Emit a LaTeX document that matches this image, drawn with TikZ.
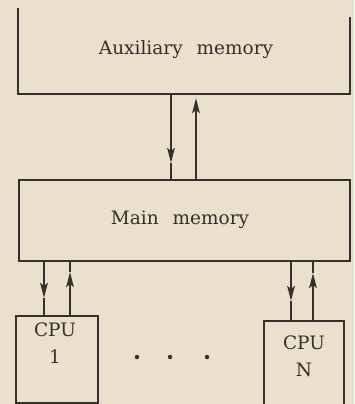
\documentclass[tikz,border=0pt]{standalone}
\usepackage{fontspec}
\setmainfont{DejaVu Serif}
\usetikzlibrary{arrows.meta}
\definecolor{paper}{HTML}{EAE0CB}
\definecolor{ink}{HTML}{35302B}
\begin{document}
\begin{tikzpicture}[x=1pt,y=-1pt,
  line width=2.3pt, draw=ink, line join=miter,
  boxed/.style={draw=ink, line width=2.3pt, rectangle, inner sep=0pt, anchor=north west},
  lbl/.style={text=ink, font=\fontsize{18.5}{22}\selectfont, inner sep=0pt},
  arr/.style={-{Stealth[length=15pt,width=7.5pt,inset=3pt]}},
  dot/.style={circle, fill=ink, draw=none, minimum size=4.5pt, inner sep=0pt}]
\fill[paper] (0,0) rectangle (354,404);
\useasboundingbox (0,0) rectangle (354,404);
\clip (0,0) rectangle (354,404);
% auxiliary memory (open-top box)
\coordinate (auxTL) at (18,8);
\coordinate (auxTR) at (350,17);
\coordinate (auxBL) at (18,94);
\coordinate (auxBR) at (350,94);
\node[lbl] (aux) at (186,50) {Auxiliary\hspace{0.75em}memory};
\draw (auxTL) -- (auxBL) -- (auxBR) -- (auxTR);
% main memory
\node[boxed, minimum width=331pt, minimum height=81pt] (main) at (18,179) {};
\node[lbl] (mainlbl) at (180,220) {Main\hspace{0.75em}memory};
% CPUs
\node[boxed, minimum width=82pt, minimum height=87pt] (cpu1) at (15,315) {};
\node[lbl] (cpu1a) at (55,330) {CPU};
\node[lbl] (cpu1b) at (55,357) {1};
\node[boxed, minimum width=80pt, minimum height=100pt] (cpuN) at (263,320) {};
\node[lbl] (cpuNa) at (304,343) {CPU};
\node[lbl] (cpuNb) at (304,370) {N};
% dots
\node[dot] (d1) at (137,357) {};
\node[dot] (d2) at (170,357) {};
\node[dot] (d3) at (207,357) {};
% aux <-> main
\coordinate (t1) at (171,163);
\draw[arr] (auxBL -| t1) -- (t1);
\draw (t1) -- (main.north -| t1);
\coordinate (t2) at (196,98);
\draw[arr] (main.north -| t2) -- (t2);
% main <-> cpu1
\coordinate (t3) at (44,298);
\draw[arr] (main.south -| t3) -- (t3);
\draw (t3) -- (cpu1.north -| t3);
\coordinate (t4) at (70,272);
\draw[arr] (cpu1.north -| t4) -- (t4);
\draw (t4) -- (main.south -| t4);
% main <-> cpuN
\coordinate (t5) at (291,301);
\draw[arr] (main.south -| t5) -- (t5);
\draw (t5) -- (cpuN.north -| t5);
\coordinate (t6) at (313,273);
\draw[arr] (cpuN.north -| t6) -- (t6);
\draw (t6) -- (main.south -| t6);
\end{tikzpicture}
\end{document}
